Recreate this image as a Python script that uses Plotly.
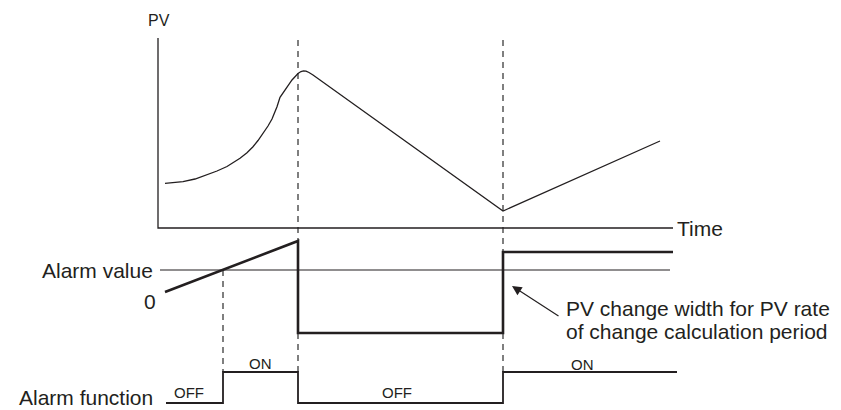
import plotly.graph_objects as go

# ---- data (diagram units: x = time position, y = vertical position, top=0) ----
pv_t = [165, 175, 183, 195, 207, 217, 227, 240, 247, 253, 258, 263, 268, 272, 275, 277, 280, 285, 292, 298, 301, 303.5, 306, 309, 313, 503, 660]
pv_v = [183.3, 182.8, 181.7, 179, 175, 171, 166.5, 158.3, 152.8, 146.7, 140.5, 133.3, 126, 119, 112, 106.7, 97.3, 90, 80, 73.5, 71.5, 70.8, 71.2, 72.5, 75, 211, 141]

axis_pv_x = [158, 158, 673]
axis_pv_y = [38, 228, 228]

alarm_value_x = [160, 670]
alarm_value_y = [270, 270]

rate_t = [165, 298, 298, 503, 503, 673]
rate_v = [292, 241, 333, 333, 252, 252]

func_t = [166, 223, 223, 298, 298, 503, 503, 677]
func_v = [403, 403, 372, 372, 403, 403, 372, 372]

dash_lines = [
    ([298, 298], [40, 241]),
    ([298, 298], [333, 372]),
    ([503, 503], [40, 252]),
    ([503, 503], [333, 372]),
    ([223, 223], [270, 372]),
]

labels_big = [
    ("Alarm value", 154, 270, "right", "middle"),
    ("0", 157, 301, "right", "middle"),
    ("Alarm function", 154, 410, "right", "bottom"),
    ("Time", 676, 228, "left", "middle"),
    ("PV change width for PV rate", 565, 308, "left", "middle"),
    ("of change calculation period", 565, 331, "left", "middle"),
]
labels_small = [
    ("PV", 159, 20, 16),
    ("OFF", 189, 392, 15),
    ("ON", 260, 363, 15),
    ("OFF", 397, 392, 15),
    ("ON", 582, 364, 15),
]
arrow_tail = (560, 317)
arrow_tip = (512, 286)

INK = "#231f20"
FONT = "Liberation Sans, Arial, sans-serif"
fig = go.Figure()

for xs, ys in dash_lines:
    fig.add_trace(go.Scatter(x=xs, y=ys, mode="lines",
                             line=dict(color="#555555", width=1.5, dash="6px,5px"),
                             hoverinfo="skip"))

fig.add_trace(go.Scatter(x=axis_pv_x, y=axis_pv_y, mode="lines",
                         line=dict(color=INK, width=1.3), hoverinfo="skip"))
fig.add_trace(go.Scatter(x=pv_t, y=pv_v, mode="lines",
                         line=dict(color=INK, width=1.3), hoverinfo="skip"))
fig.add_trace(go.Scatter(x=alarm_value_x, y=alarm_value_y, mode="lines",
                         line=dict(color=INK, width=1.2), hoverinfo="skip"))
fig.add_trace(go.Scatter(x=rate_t, y=rate_v, mode="lines",
                         line=dict(color=INK, width=2.6), hoverinfo="skip"))
fig.add_trace(go.Scatter(x=func_t, y=func_v, mode="lines",
                         line=dict(color=INK, width=1.8), hoverinfo="skip"))

for txt, x, y, al, va in labels_big:
    fig.add_annotation(x=x, y=y, text=txt, showarrow=False, xanchor=al, yanchor=va,
                       borderpad=0, font=dict(family=FONT, size=21, color=INK))
for txt, x, y, sz in labels_small:
    fig.add_annotation(x=x, y=y, text=txt, showarrow=False, xanchor="center", yanchor="middle",
                       font=dict(family=FONT, size=sz, color=INK))

fig.add_annotation(x=arrow_tip[0], y=arrow_tip[1], ax=arrow_tail[0], ay=arrow_tail[1],
                   axref="x", ayref="y", xref="x", yref="y", text="",
                   showarrow=True, arrowhead=2, arrowsize=1.6, arrowwidth=1.2, arrowcolor=INK)

fig.update_layout(
    width=841, height=410, margin=dict(l=0, r=0, t=0, b=0),
    paper_bgcolor="white", plot_bgcolor="white", showlegend=False,
    xaxis=dict(range=[0, 841], visible=False, fixedrange=True),
    yaxis=dict(range=[410, 0], visible=False, fixedrange=True),
)
fig.write_html("out.html", config={"displayModeBar": False},
               post_script="document.body.style.margin='0';document.body.style.padding='0';document.body.style.overflow='hidden';")
